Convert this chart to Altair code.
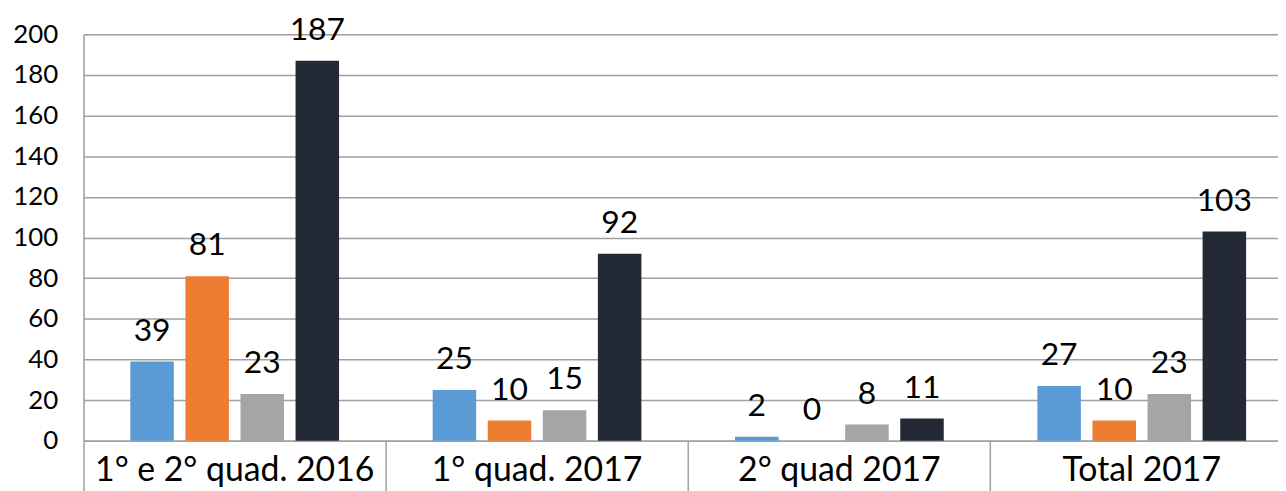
import altair as alt
import pandas as pd

categories = ["1° e 2° quad. 2016", "1° quad. 2017", "2° quad 2017", "Total 2017"]
series = ["S1", "S2", "S3", "S4"]
colors = ["#5B9BD5", "#ED7D31", "#A5A5A5", "#232A36"]
s1 = [39, 25, 2, 27]
s2 = [81, 10, 0, 10]
s3 = [23, 15, 8, 23]
s4 = [187, 92, 11, 103]

rows = []
for i, c in enumerate(categories):
    for s, vals in zip(series, [s1, s2, s3, s4]):
        rows.append({"cat": c, "serie": s, "valor": vals[i]})
df = pd.DataFrame(rows)

FONT = "Lato"

x = alt.X("cat:N", sort=categories, title=None,
          scale=alt.Scale(paddingInner=0, paddingOuter=0, range=[0, 1217]),
          axis=alt.Axis(labelFontSize=34, labelFont=FONT, labelColor="#000000",
                        labelPadding=-37, labelAngle=0, bandPosition=0, labelLimit=500,
                        tickSize=50, tickColor="#A0A0A0", tickWidth=1.5,
                        domainColor="#A0A0A0", domainWidth=1.5, grid=False))
xo = alt.XOffset("serie:N", sort=series,
                 scale=alt.Scale(paddingInner=0.21, paddingOuter=0.85))
y = alt.Y("valor:Q", title=None,
          scale=alt.Scale(domain=[0, 200], nice=False),
          axis=alt.Axis(values=list(range(0, 201, 20)), labelFontSize=26, labelFont=FONT,
                        labelColor="#000000", labelPadding=26, ticks=False,
                        gridColor="#A0A0A0", gridWidth=1.5,
                        domainColor="#A0A0A0", domainWidth=1.5))

base = alt.Chart(df).encode(x=x, xOffset=xo)

bars = base.mark_bar().encode(
    y=y,
    color=alt.Color("serie:N", sort=series, legend=None,
                    scale=alt.Scale(domain=series, range=colors)),
)
labels = base.mark_text(fontSize=32, font=FONT, color="#000000", baseline="alphabetic", dy=-21).encode(
    y=alt.Y("valor:Q"),
    text=alt.Text("valor:Q"),
)

chart = alt.layer(bars, labels).properties(
    width=1202, height=409,
    autosize=alt.AutoSizeParams(type="none"),
    padding={"left": 76, "top": 25, "right": 0, "bottom": 50},
).configure_view(stroke=None).configure(background="white")

chart.save("out.html", embed_options={"renderer": "svg", "actions": False})
